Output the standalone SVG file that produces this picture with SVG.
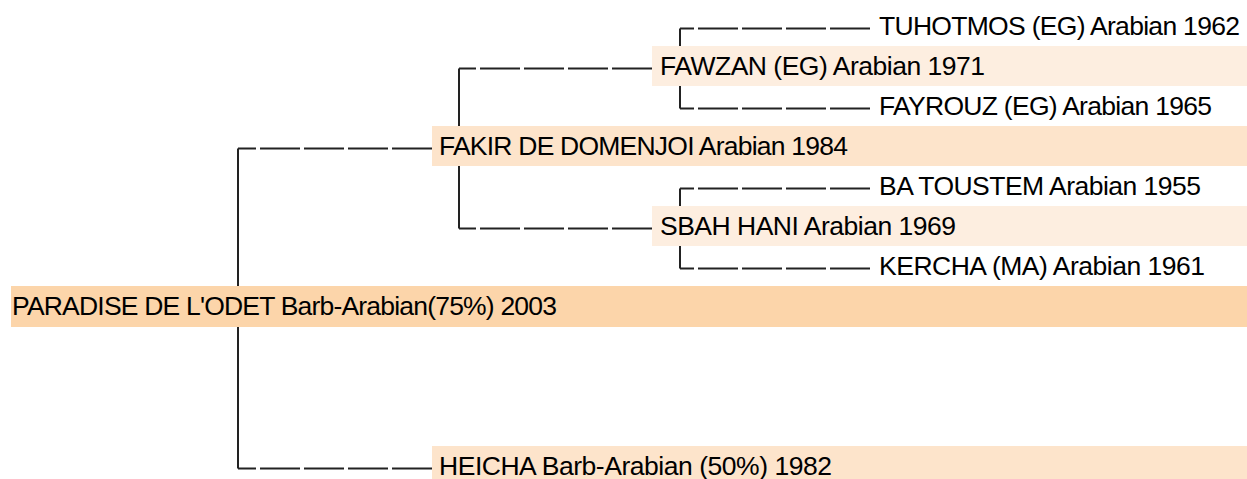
<svg xmlns="http://www.w3.org/2000/svg" width="1247" height="479" viewBox="0 0 1247 479">
<style>
  .ln { fill: none; stroke: #222222; stroke-width: 2; }
  .dash { stroke-dasharray: 40 4; }
  .b0 { fill: #FCD5AA; }
  .b1 { fill: #FDE4CB; }
  .b2 { fill: #FDEEE0; }
  text { font-family: "Liberation Sans", Arial, sans-serif; font-size: 26.5px; fill: #000; }
</style>
<rect width="1247" height="479" fill="#ffffff"/>
<g id="connectors">
  <path class="ln" d="M238 148.5 V468.5"/>
  <path class="ln dash" d="M432 148.5 H238"/>
  <path class="ln dash" d="M432 468.5 H238"/>
  <path class="ln" d="M459 68.5 V228.5"/>
  <path class="ln dash" d="M652 68.5 H459"/>
  <path class="ln dash" d="M652 228.5 H459"/>
  <path class="ln" d="M680 28.5 V108.5"/>
  <path class="ln dash" d="M870 28.5 H680"/>
  <path class="ln dash" d="M870 108.5 H680"/>
  <path class="ln" d="M680 188.5 V268.5"/>
  <path class="ln dash" d="M870 188.5 H680"/>
  <path class="ln dash" d="M870 268.5 H680"/>
</g>
<g id="node-paradise">
  <rect class="b0" x="11" y="286" width="1236" height="41"/>
  <text x="12" y="314.5" textLength="545">PARADISE DE L'ODET Barb-Arabian(75%) 2003</text>
</g>
<g id="node-fakir">
  <rect class="b1" x="432" y="126" width="815" height="40"/>
  <text x="439" y="154.5" textLength="409">FAKIR DE DOMENJOI Arabian 1984</text>
</g>
<g id="node-heicha">
  <rect class="b1" x="432" y="446" width="815" height="33"/>
  <text x="439" y="474.5" textLength="393">HEICHA Barb-Arabian (50%) 1982</text>
</g>
<g id="node-fawzan">
  <rect class="b2" x="652" y="46" width="595" height="40"/>
  <text x="660" y="74.5" textLength="325">FAWZAN (EG) Arabian 1971</text>
</g>
<g id="node-sbah">
  <rect class="b2" x="652" y="206" width="595" height="40"/>
  <text x="660" y="234.5" textLength="296">SBAH HANI Arabian 1969</text>
</g>
<g id="node-tuhotmos">
  <text x="879" y="34.5" textLength="361">TUHOTMOS (EG) Arabian 1962</text>
</g>
<g id="node-fayrouz">
  <text x="879" y="114.5" textLength="333">FAYROUZ (EG) Arabian 1965</text>
</g>
<g id="node-batoustem">
  <text x="879" y="194.5" textLength="322">BA TOUSTEM Arabian 1955</text>
</g>
<g id="node-kercha">
  <text x="879" y="274.5" textLength="326">KERCHA (MA) Arabian 1961</text>
</g>
</svg>
